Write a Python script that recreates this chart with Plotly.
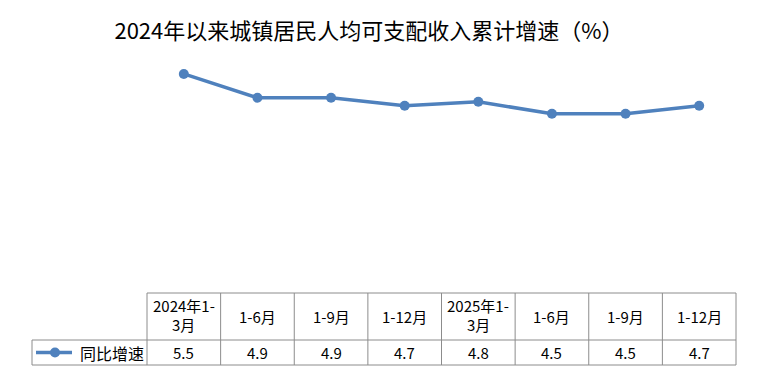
import plotly.graph_objects as go

categories_line1 = ["2024年1-", "1-6月", "1-9月", "1-12月", "2025年1-", "1-6月", "1-9月", "1-12月"]
categories_line2 = ["3月", "", "", "", "3月", "", "", ""]
values = [5.5, 4.9, 4.9, 4.7, 4.8, 4.5, 4.5, 4.7]
series_name = "同比增速"
title = "2024年以来城镇居民人均可支配收入累计增速（%）"

OFF = 8  # default page body margin
W, H = 783 - 2 * OFF, 389 - 2 * OFF
L, R, T, B = 147 - OFF, 736 - OFF, 54 - OFF, 293 - OFF
pw, ph = R - L, B - T
color = "#4F81BD"
grid = "#8c8c8c"
font = "Noto Sans CJK SC, Microsoft YaHei, sans-serif"

n = len(values)
xs = list(range(n))

fig = go.Figure()
fig.add_trace(go.Scatter(
    x=xs, y=values, mode="lines+markers",
    line=dict(color=color, width=3.5),
    marker=dict(color=color, size=10),
    name=series_name, showlegend=False, cliponaxis=False,
))

# helpers: reference-pixel -> paper coords
def py(Y):
    return (B - (Y - OFF)) / ph

def px(X):
    return ((X - OFF) - L) / pw

shapes = []
annotations = []
row_top, row_mid, row_bot = 293, 340, 365
lw = dict(color=grid, width=1)
shapes.append(dict(type="line", xref="paper", yref="paper", x0=0, x1=1, y0=py(row_top), y1=py(row_top), line=lw))
shapes.append(dict(type="line", xref="paper", yref="paper", x0=px(32), x1=1, y0=py(row_mid), y1=py(row_mid), line=lw))
shapes.append(dict(type="line", xref="paper", yref="paper", x0=px(32), x1=1, y0=py(row_bot), y1=py(row_bot), line=lw))
for i in range(n + 1):
    xp = i / n
    shapes.append(dict(type="line", xref="paper", yref="paper", x0=xp, x1=xp, y0=py(row_top), y1=py(row_bot), line=lw))
shapes.append(dict(type="line", xref="paper", yref="paper", x0=px(32), x1=px(32), y0=py(row_mid), y1=py(row_bot), line=lw))

# legend key
shapes.append(dict(type="line", xref="paper", yref="paper", x0=px(36), x1=px(72), y0=py(352.5), y1=py(352.5), line=dict(color=color, width=3.5)))
shapes.append(dict(type="circle", xref="paper", yref="paper", x0=px(50), x1=px(60), y0=py(357.5), y1=py(347.5), fillcolor=color, line=dict(color=color, width=0)))
annotations.append(dict(text=series_name, xref="paper", yref="paper", x=px(78), y=py(352.5), xanchor="left", yanchor="middle", showarrow=False, font=dict(family=font, size=16, color="#000")))

tf = dict(family=font, size=15, color="#000")
for i in range(n):
    l1, l2, v = categories_line1[i], categories_line2[i], values[i]
    if l2:
        annotations.append(dict(text=l1, xref="x", yref="paper", x=i, y=py(305), xanchor="center", yanchor="middle", showarrow=False, font=tf))
        annotations.append(dict(text=l2, xref="x", yref="paper", x=i, y=py(324), xanchor="center", yanchor="middle", showarrow=False, font=tf))
    else:
        annotations.append(dict(text=l1, xref="x", yref="paper", x=i, y=py(316.5), xanchor="center", yanchor="middle", showarrow=False, font=tf))
    annotations.append(dict(text=f"{v:.1f}", xref="x", yref="paper", x=i, y=py(352.5), xanchor="center", yanchor="middle", showarrow=False, font=tf))

fig.update_layout(
    width=W, height=H,
    margin=dict(l=L, r=W - R, t=T, b=H - B, pad=0),
    paper_bgcolor="white", plot_bgcolor="white",
    title=dict(text=title, x=(369 - OFF) / W, xanchor="center", y=1 - (31 - OFF) / H, yanchor="middle",
               font=dict(family=font, size=22, color="#000")),
    xaxis=dict(range=[-0.5, n - 0.5], visible=False, fixedrange=True),
    yaxis=dict(range=[0, 6], visible=False, fixedrange=True),
    shapes=shapes, annotations=annotations,
    showlegend=False,
)

fig.write_html("out.html")
